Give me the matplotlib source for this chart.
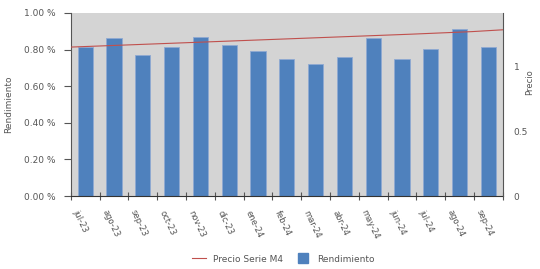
import matplotlib
matplotlib.use("Agg")
import matplotlib.pyplot as plt
from matplotlib.lines import Line2D
import numpy as np

# monthly data
meses = ['jul-23', 'ago-23', 'sep-23', 'oct-23', 'nov-23', 'dic-23', 'ene-24', 'feb-24',
         'mar-24', 'abr-24', 'may-24', 'jun-24', 'jul-24', 'ago-24', 'sep-24']
rendimiento = [0.812, 0.863, 0.769, 0.816, 0.871, 0.827, 0.792, 0.750,
               0.723, 0.758, 0.865, 0.750, 0.803, 0.911, 0.816]
precio = [1.147, 1.156, 1.165, 1.174, 1.183, 1.192, 1.201, 1.210,
          1.219, 1.228, 1.237, 1.246, 1.256, 1.266, 1.280]

grey = '#555555'
fig = plt.figure(figsize=(5.40, 2.69), dpi=100)
ax = fig.add_axes([0.131, 0.271, 0.800, 0.681])
ax.set_facecolor('#d4d4d4')

x = np.arange(len(meses))
ax.bar(x, rendimiento, width=0.53, color='#4f81bd', edgecolor='#8fa9d2',
       linewidth=0.6, zorder=2)
ax.set_xlim(-0.5, len(meses) - 0.5)
ax.set_ylim(0, 1.0)
ax.set_yticks(np.arange(0, 1.01, 0.2))
ax.set_yticklabels(['%.2f %%' % v for v in np.arange(0, 1.01, 0.2)])
ax.set_xticks(x - 0.2)
ax.set_xticklabels(meses, rotation=-65, ha='left', va='top', rotation_mode='anchor')
ax.set_xticks(np.arange(-0.5, len(meses), 1), minor=True)
ax.tick_params(axis='x', which='major', length=0, labelsize=6, labelcolor=grey, pad=9)
ax.tick_params(axis='x', which='minor', length=6, direction='inout', color=grey, width=0.8)
ax.tick_params(axis='y', length=5, color=grey, width=0.8, labelsize=6.5, labelcolor=grey, pad=6)
ax.set_ylabel('Rendimiento', fontsize=6.5, color=grey, labelpad=8)
for s in ['top', 'right']:
    ax.spines[s].set_visible(False)
ax.spines['left'].set_color(grey)
ax.spines['bottom'].set_color('#333333')

ax2 = ax.twinx()
xl = np.linspace(-0.5, len(meses) - 0.5, len(precio))
ax2.plot(xl, precio, color='#c0504d', linewidth=0.8, zorder=3)
ax2.set_ylim(0, 1.41)
ax2.set_yticks([0, 0.5, 1])
ax2.set_yticklabels(['0', '0.5', '1'])
ax2.tick_params(axis='y', length=0, labelsize=6.5, labelcolor=grey, pad=8)
for s in ['top', 'left', 'bottom']:
    ax2.spines[s].set_visible(False)
ax2.spines['right'].set_color(grey)
ax2.set_ylabel('Precio', fontsize=6, color=grey)
ax2.yaxis.set_label_coords(1.052, 0.62)

h_line = Line2D([], [], color='#c0504d', linewidth=0.8)
h_bar = Line2D([], [], color='#4f81bd', marker='s', markersize=7, linestyle='none')
fig.legend([h_line, h_bar], ['Precio Serie M4', 'Rendimiento'], loc='lower center',
           bbox_to_anchor=(0.525, -0.01), ncol=2, frameon=False, fontsize=6.5,
           labelcolor=grey, handlelength=1.5, handletextpad=0.8, columnspacing=1.5)

fig.savefig('out.png', dpi=100)
